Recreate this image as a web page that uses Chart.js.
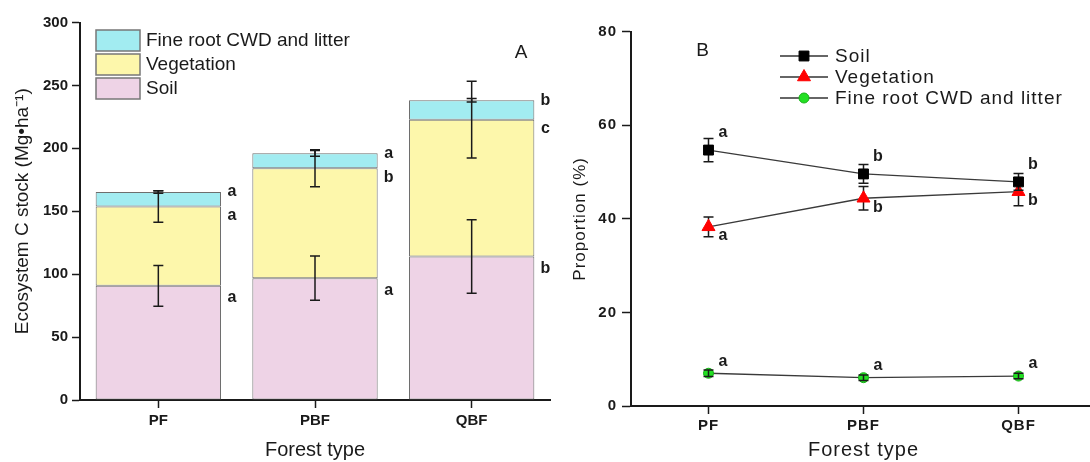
<!DOCTYPE html>
<html>
<head>
<meta charset="utf-8">
<script src="https://cdn.jsdelivr.net/npm/chart.js@4.4.1/dist/chart.umd.min.js"></script>
<style>
  html, body { margin: 0; padding: 0; background: #fff; width: 1090px; height: 462px; overflow: hidden; }
  #wrapA { position: absolute; left: 0; top: 0; width: 565px; height: 462px; }
  #wrapB { position: absolute; left: 565px; top: 0; width: 545px; height: 462px; }
</style>
</head>
<body>
<div id="wrapA"><canvas id="stockChart" width="565" height="462"></canvas></div>
<div id="wrapB"><canvas id="shareChart" width="545" height="462"></canvas></div>
<script>
const forestTypes = ['PF', 'PBF', 'QBF'];

// Panel A: ecosystem C stock (Mg ha-1)
const soilStock = [90.7, 96.8, 114.0];
const vegStock = [63.1, 87.3, 108.8];
const fineStock = [11.5, 11.9, 15.4];
const soilStockErr = [16.2, 17.6, 29.2];
const vegStockErr = [12.5, 14.7, 30.5];
const fineStockErr = [1.0, 2.2, 1.4];
const soilStockLetters = ['a', 'a', 'b'];
const vegStockLetters = ['a', 'b', 'c'];
const fineStockLetters = ['a', 'a', 'b'];
const stockTicks = [0, 50, 100, 150, 200, 250, 300];

// Panel B: proportion (%)
const soilShare = [54.7, 49.6, 47.9];
const vegShare = [38.3, 44.4, 45.8];
const fineShare = [7.0, 6.05, 6.4];
const soilShareErr = [2.5, 2.0, 1.8];
const vegShareErr = [2.1, 2.5, 3.0];
const fineShareErr = [0.7, 0.6, 0.6];
const soilShareLetters = ['a', 'b', 'b'];
const vegShareLetters = ['a', 'b', 'b'];
const fineShareLetters = ['a', 'a', 'a'];
const shareTicks = [0, 20, 40, 60, 80];

Chart.defaults.font.family = "'Liberation Sans', Arial, sans-serif";
Chart.defaults.color = '#1a1a1a';

const ink = '#1a1a1a';

function axisGrid() {
    return {
        display: true,
        drawOnChartArea: false,
        drawTicks: true,
        tickLength: 8,
        tickColor: ink,
        tickWidth: 1.5,
    };
}

function drawErrBar(ctx, x, yHi, yLo) {
    ctx.beginPath();
    ctx.moveTo(x, yHi); ctx.lineTo(x, yLo);
    ctx.moveTo(x - 5, yHi); ctx.lineTo(x + 5, yHi);
    ctx.moveTo(x - 5, yLo); ctx.lineTo(x + 5, yLo);
    ctx.stroke();
}

// ---------- Panel A ----------
const stackExtras = {
    id: 'stackExtras',
    afterDatasetsDraw(chart) {
        const { ctx } = chart;
        const y = chart.scales.y;
        const letterShift = [12, 9, 0];
        ctx.save();
        ctx.strokeStyle = ink;
        ctx.lineWidth = 1.5;
        chart.data.datasets.forEach((ds, i) => {
            chart.getDatasetMeta(i).data.forEach((bar, j) => {
                let cum = 0;
                for (let k = 0; k <= i; k++) cum += chart.data.datasets[k].data[j];
                drawErrBar(ctx, bar.x, y.getPixelForValue(cum + ds.err[j]), y.getPixelForValue(cum - ds.err[j]));
            });
        });
        ctx.fillStyle = ink;
        ctx.font = "bold 16px 'Liberation Sans', Arial, sans-serif";
        ctx.textAlign = 'center';
        ctx.textBaseline = 'middle';
        chart.data.datasets.forEach((ds, i) => {
            chart.getDatasetMeta(i).data.forEach((bar, j) => {
                ctx.fillText(ds.letters[j], bar.x + bar.width / 2 + 11, bar.y + letterShift[i]);
            });
        });
        // legend
        ctx.font = "19px 'Liberation Sans', Arial, sans-serif";
        ctx.textAlign = 'left';
        const rows = [2, 1, 0];
        rows.forEach((di, r) => {
            const ds = chart.data.datasets[di];
            const top = 30 + r * 24;
            ctx.fillStyle = ds.backgroundColor;
            ctx.fillRect(96, top, 44, 21);
            ctx.strokeStyle = '#777';
            ctx.lineWidth = 1.5;
            ctx.strokeRect(96, top, 44, 21);
            ctx.fillStyle = ink;
            ctx.fillText(ds.label, 146, top + 11);
        });
        ctx.textAlign = 'center';
        ctx.fillText('A', 521, 53);
        ctx.restore();
    }
};

new Chart(document.getElementById('stockChart'), {
    type: 'bar',
    data: {
        labels: forestTypes,
        datasets: [
            { label: 'Soil', data: soilStock, err: soilStockErr, letters: soilStockLetters, backgroundColor: '#EED3E6' },
            { label: 'Vegetation', data: vegStock, err: vegStockErr, letters: vegStockLetters, backgroundColor: '#FDF7AB' },
            { label: 'Fine root CWD and litter', data: fineStock, err: fineStockErr, letters: fineStockLetters, backgroundColor: '#A2ECF1' },
        ].map(d => Object.assign(d, {
            borderColor: '#6e6e6e',
            borderWidth: 1,
            borderSkipped: false,
            barPercentage: 0.8,
            categoryPercentage: 1.0,
        }))
    },
    options: {
        responsive: false,
        animation: false,
        layout: { padding: { left: 0, right: 15, top: 22.5, bottom: 0 } },
        plugins: { legend: { display: false }, tooltip: { enabled: false } },
        scales: {
            x: {
                stacked: true,
                offset: true,
                grid: Object.assign(axisGrid(), { offset: false }),
                border: { display: true, color: ink, width: 2 },
                ticks: { font: { size: 15, weight: 'bold' }, color: ink, padding: 4 },
                title: { display: true, text: 'Forest type', font: { size: 20 }, color: ink, padding: { bottom: 0 } },
                afterFit: s => { s.height = 62; }
            },
            y: {
                stacked: true,
                min: 0,
                max: 300,
                grid: axisGrid(),
                border: { display: true, color: ink, width: 2 },
                ticks: { font: { size: 15, weight: 'bold' }, color: ink, padding: 4 },
                afterBuildTicks: s => { s.ticks = stockTicks.map(v => ({ value: v })); },
                title: { display: true, text: 'Ecosystem C stock (Mg\u2022ha\u207B\u00B9)', font: { size: 19 }, color: ink, padding: { top: 11 } },
                afterFit: s => { s.width = 80; }
            }
        }
    },
    plugins: [stackExtras]
});

// ---------- Panel B ----------
const shareExtras = {
    id: 'shareExtras',
    beforeDraw(chart) {
        chart.ctx.letterSpacing = '1px';
    },
    beforeDatasetDraw(chart, args) {
        if (args.index !== 2) this.errs(chart, args.index);
    },
    afterDatasetDraw(chart, args) {
        if (args.index === 2) this.errs(chart, args.index);
    },
    errs(chart, i) {
        const { ctx } = chart;
        const y = chart.scales.y;
        const ds = chart.data.datasets[i];
        ctx.save();
        ctx.strokeStyle = ink;
        ctx.lineWidth = 1.5;
        chart.getDatasetMeta(i).data.forEach((pt, j) => {
            const v = ds.data[j];
            drawErrBar(ctx, pt.x, y.getPixelForValue(v + ds.err[j]), y.getPixelForValue(v - ds.err[j]));
        });
        ctx.restore();
    },
    afterDatasetsDraw(chart) {
        const { ctx } = chart;
        const letterShift = [-17, 9, -12];
        ctx.save();
        ctx.fillStyle = ink;
        ctx.font = "bold 16px 'Liberation Sans', Arial, sans-serif";
        ctx.textAlign = 'center';
        ctx.textBaseline = 'middle';
        chart.data.datasets.forEach((ds, i) => {
            chart.getDatasetMeta(i).data.forEach((pt, j) => {
                ctx.fillText(ds.letters[j], pt.x + 15, pt.y + letterShift[i]);
            });
        });
        // legend
        ctx.font = "19px 'Liberation Sans', Arial, sans-serif";
        ctx.textAlign = 'left';
        chart.data.datasets.forEach((ds, i) => {
            const yy = 56 + i * 21;
            ctx.strokeStyle = '#333';
            ctx.lineWidth = 1.3;
            ctx.beginPath();
            ctx.moveTo(215, yy); ctx.lineTo(263, yy);
            ctx.stroke();
            ctx.fillStyle = ds.pointBackgroundColor;
            ctx.strokeStyle = ds.pointBorderColor;
            ctx.lineWidth = 1;
            Chart.helpers.drawPoint(ctx, { pointStyle: ds.pointStyle, radius: ds.pointRadius, rotation: 0, borderWidth: 1 }, 239, yy);
            ctx.fillStyle = ink;
            ctx.fillText(ds.label, 270, yy + 1);
        });
        ctx.textAlign = 'center';
        ctx.fillText('B', 138, 51);
        ctx.restore();
    }
};

new Chart(document.getElementById('shareChart'), {
    type: 'line',
    data: {
        labels: forestTypes,
        datasets: [
            { label: 'Soil', data: soilShare, err: soilShareErr, letters: soilShareLetters,
              pointStyle: 'rect', pointRadius: 7, pointBackgroundColor: '#000', pointBorderColor: '#000' },
            { label: 'Vegetation', data: vegShare, err: vegShareErr, letters: vegShareLetters,
              pointStyle: 'triangle', pointRadius: 7.5, pointBackgroundColor: '#ff0000', pointBorderColor: '#ff0000' },
            { label: 'Fine root CWD and litter', data: fineShare, err: fineShareErr, letters: fineShareLetters,
              pointStyle: 'circle', pointRadius: 5, pointBackgroundColor: '#22e022', pointBorderColor: '#18b018' },
        ].map(d => Object.assign(d, {
            borderColor: '#3a3a3a',
            borderWidth: 1.3,
            pointBorderWidth: 1,
            tension: 0,
            fill: false,
        }))
    },
    options: {
        responsive: false,
        animation: false,
        layout: { padding: { left: 0, right: 14, top: 31.7, bottom: 0 } },
        plugins: { legend: { display: false }, tooltip: { enabled: false } },
        scales: {
            x: {
                offset: true,
                grid: axisGrid(),
                border: { display: true, color: ink, width: 2 },
                ticks: { font: { size: 15, weight: 'bold' }, color: ink, padding: 3 },
                title: { display: true, text: 'Forest type', font: { size: 20 }, color: ink, padding: { bottom: 0 } },
                afterFit: s => { s.height = 56; }
            },
            y: {
                min: 0,
                max: 80,
                grid: Object.assign(axisGrid(), { tickLength: 9 }),
                border: { display: true, color: ink, width: 2 },
                ticks: { font: { size: 15, weight: 'bold' }, color: ink, padding: 5 },
                afterBuildTicks: s => { s.ticks = shareTicks.map(v => ({ value: v })); },
                title: { display: true, text: 'Proportion (%)', font: { size: 17 }, color: ink, padding: { top: 5 } },
                afterFit: s => { s.width = 66; }
            }
        }
    },
    plugins: [shareExtras]
});
</script>
</body>
</html>
